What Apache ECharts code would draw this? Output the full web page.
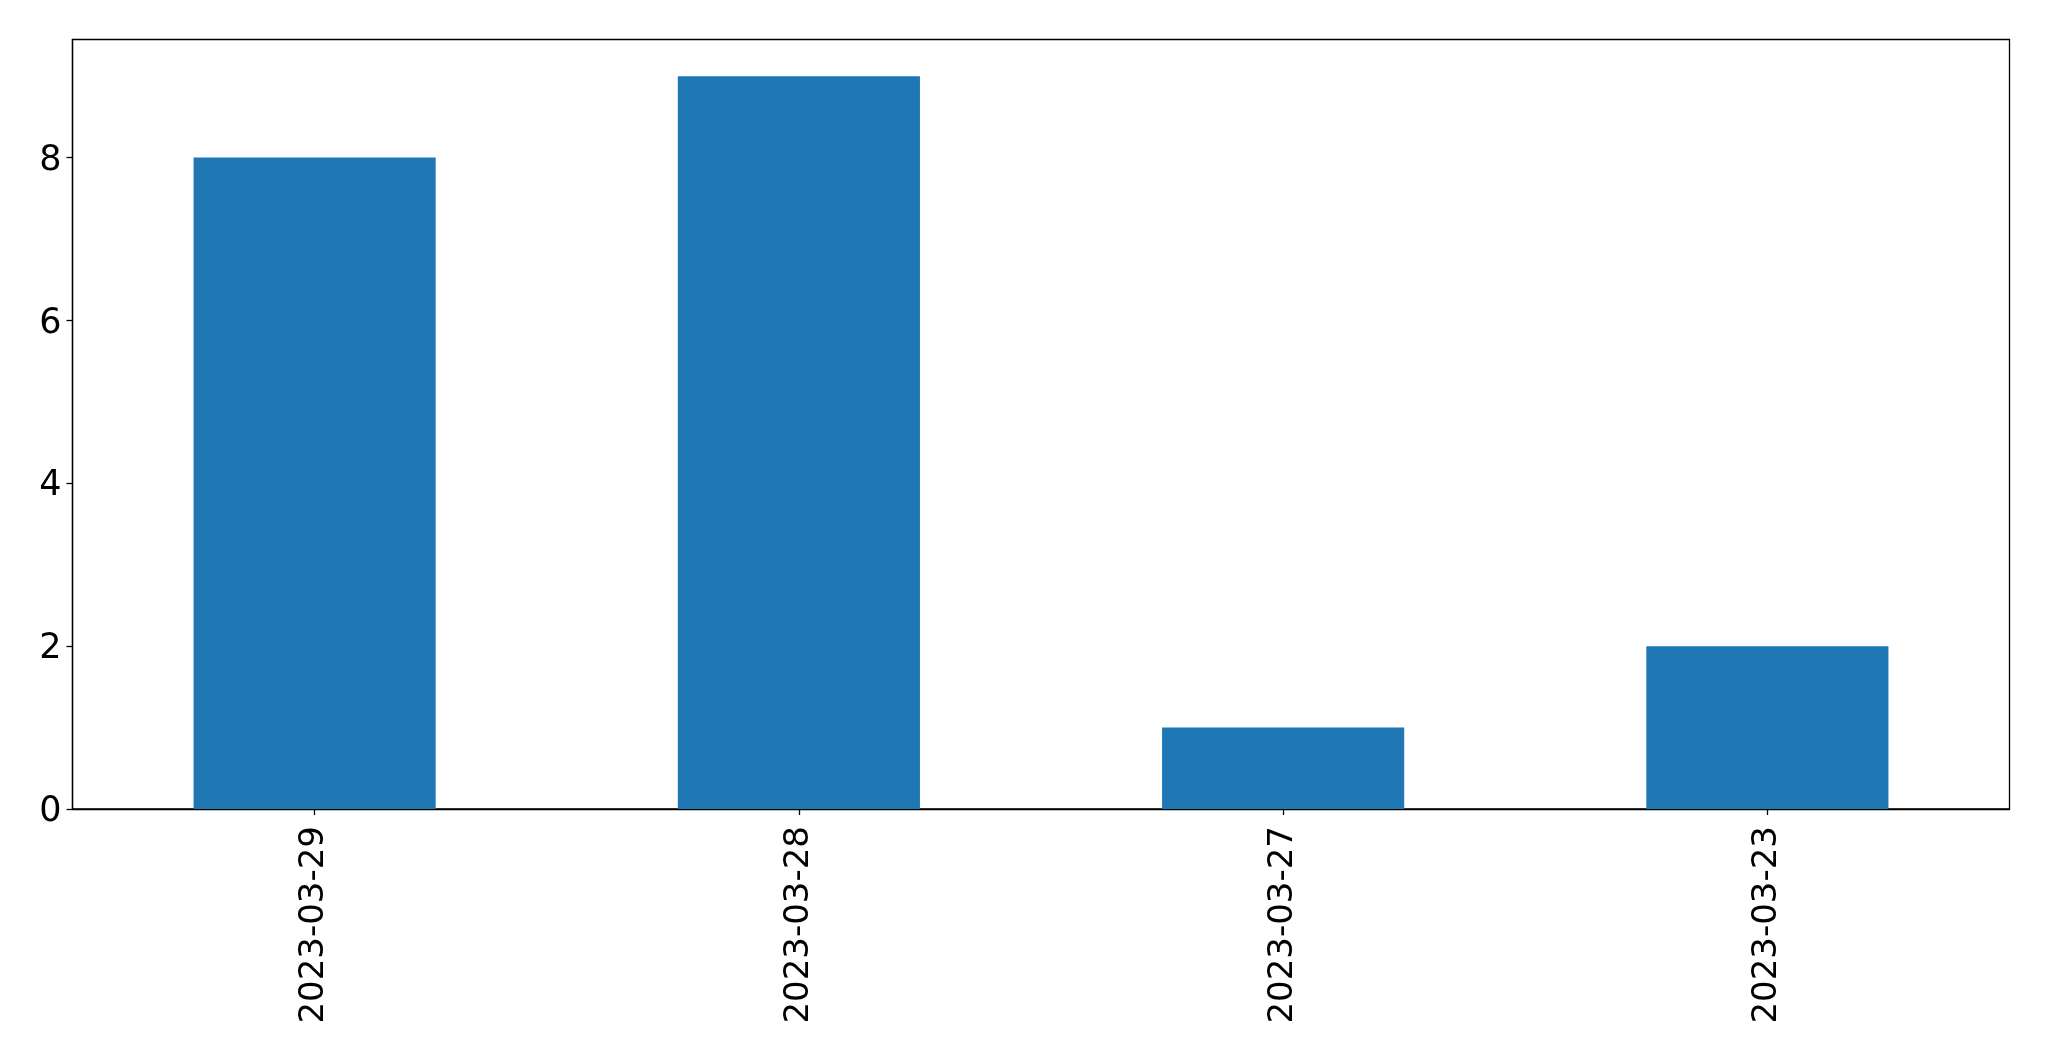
<!DOCTYPE html>
<html>
<head>
<meta charset="utf-8">
<script src="https://cdn.jsdelivr.net/npm/echarts@6/dist/echarts.min.js"></script>
<style>
html,body{margin:0;padding:0;background:#fff;}
#chart{width:2049px;height:1061px;}
</style>
</head>
<body>
<div id="chart"></div>
<script>
const categories = ['2023-03-29', '2023-03-28', '2023-03-27', '2023-03-23'];
const values = [8, 9, 1, 2];
const yTicks = [0, 2, 4, 6, 8];

const chart = echarts.init(document.getElementById('chart'), null, {renderer: 'canvas'});
chart.setOption({
  animation: false,
  backgroundColor: '#ffffff',
  grid: {
    left: 72.5, top: 39.5, width: 1937, height: 769.5,
    show: true, borderColor: '#000', borderWidth: 1.3, backgroundColor: 'transparent',
    containLabel: false
  },
  xAxis: {
    type: 'category',
    data: categories,
    boundaryGap: true,
    axisLine: {show: true, lineStyle: {color: '#000', width: 1.3}},
    axisTick: {show: true, alignWithLabel: true, length: 6, lineStyle: {color: '#000', width: 1.3}},
    axisLabel: {
      rotate: 90, margin: 17, color: '#000',
      fontFamily: 'DejaVu Sans', fontSize: 34, interval: 0
    },
    splitLine: {show: false}
  },
  yAxis: {
    type: 'value',
    min: 0, max: 9.45, interval: 2,
    axisLine: {show: true, lineStyle: {color: '#000', width: 1.3}},
    axisTick: {show: true, length: 6, lineStyle: {color: '#000', width: 1.3}},
    axisLabel: {
      margin: 11, color: '#000', fontFamily: 'DejaVu Sans', fontSize: 34,
      showMaxLabel: false,
      formatter: function (v) { return yTicks.indexOf(v) >= 0 ? '{a|' + v + '}' : ''; },
      rich: {a: {fontFamily: 'DejaVu Sans', fontSize: 35, color: '#000', padding: [6, 0, 0, 0]}}
    },
    splitLine: {show: false}
  },
  series: [{
    type: 'bar',
    data: values,
    barWidth: '50%',
    itemStyle: {color: '#1f77b4'}
  }]
});
</script>
</body>
</html>
